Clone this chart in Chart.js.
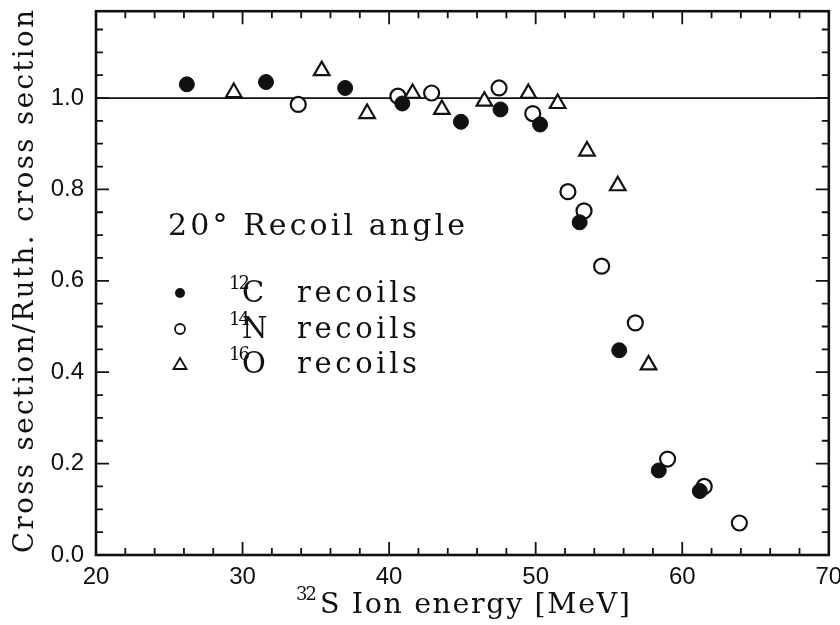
<!DOCTYPE html>
<html>
<head>
<meta charset="utf-8">
<script src="https://cdn.jsdelivr.net/npm/chart.js@4/dist/chart.umd.min.js"></script>
<style>
  body { margin: 0; background: #fff; }
  canvas { display: block; }
</style>
</head>
<body>
<canvas id="recoil-chart" width="840" height="625"></canvas>
<script>
// 12C recoils (filled circles)
const carbonEnergy = [26.2, 31.6, 37.0, 40.9, 44.9, 47.6, 50.3, 53.0, 55.7, 58.4, 61.2];
const carbonRatio  = [1.030, 1.035, 1.022, 0.988, 0.948, 0.975, 0.942, 0.728, 0.448, 0.185, 0.14];

// 14N recoils (open circles)
const nitrogenEnergy = [33.8, 40.6, 42.9, 47.5, 49.8, 52.2, 53.3, 54.5, 56.8, 59.0, 61.5, 63.9];
const nitrogenRatio  = [0.986, 1.004, 1.011, 1.022, 0.966, 0.795, 0.753, 0.632, 0.508, 0.21, 0.15, 0.07];

// 16O recoils (open triangles)
const oxygenEnergy = [29.4, 35.4, 38.5, 41.6, 43.6, 46.5, 49.5, 51.5, 53.5, 55.6, 57.7];
const oxygenRatio  = [1.012, 1.060, 0.966, 1.010, 0.975, 0.993, 1.010, 0.988, 0.884, 0.808, 0.416];

// Rutherford reference line
const rutherfordLevel = 1.0;

const xTickLabels = [20, 30, 40, 50, 60, 70];
const yTickLabels = [0.0, 0.2, 0.4, 0.6, 0.8, 1.0];

const toPoints = (xs, ys) => xs.map((x, i) => ({ x: x, y: ys[i] }));

const INK = '#111';
const SERIF = '"DejaVu Serif", "Liberation Serif", serif';
const SANS = '"Liberation Sans", Arial, sans-serif';

// draw a string stretched/squeezed (via letter spacing) to a given width
function spanText(ctx, text, x, y, size, width) {
  ctx.font = size + 'px ' + SERIF;
  ctx.letterSpacing = '0px';
  const natural = ctx.measureText(text).width;
  const gap = (width - natural) / Math.max(1, text.length - 1);
  ctx.letterSpacing = gap.toFixed(2) + 'px';
  ctx.fillText(text, x, y);
  ctx.letterSpacing = '0px';
}

// frame around the plot with inward ticks on all four sides
const framePlugin = {
  id: 'frame',
  afterDatasetsDraw(chart) {
    const { ctx, chartArea: a, scales } = chart;
    const xs = scales.x, ys = scales.y;
    ctx.save();
    ctx.strokeStyle = INK;
    ctx.lineWidth = 1.8;
    for (let v = 22; v < 70; v += 2) {
      const px = xs.getPixelForValue(v);
      const len = v % 10 === 0 ? 13 : 7;
      ctx.beginPath();
      ctx.moveTo(px, a.bottom); ctx.lineTo(px, a.bottom - len);
      ctx.moveTo(px, a.top); ctx.lineTo(px, a.top + len);
      ctx.stroke();
    }
    for (let k = 1; k * 0.05 < 1.19; k++) {
      const py = ys.getPixelForValue(k * 0.05);
      const len = k % 4 === 0 ? 13 : 7;
      ctx.beginPath();
      ctx.moveTo(a.left, py); ctx.lineTo(a.left + len, py);
      ctx.moveTo(a.right, py); ctx.lineTo(a.right - len, py);
      ctx.stroke();
    }
    ctx.lineWidth = 2.6;
    ctx.strokeRect(a.left, a.top, a.right - a.left, a.bottom - a.top);
    ctx.restore();
  }
};

// axis titles, annotation and the hand-placed key
const labelsPlugin = {
  id: 'labels',
  afterDraw(chart) {
    const ctx = chart.ctx;
    ctx.save();
    ctx.fillStyle = INK;
    ctx.strokeStyle = INK;
    ctx.textBaseline = 'alphabetic';
    ctx.textAlign = 'left';

    // y title, rotated, running from y=553 up to y=10
    ctx.save();
    ctx.translate(33, 553);
    ctx.rotate(-Math.PI / 2);
    spanText(ctx, 'Cross section/Ruth. cross section', 0, 0, 27.5, 543);
    ctx.restore();

    // x title with superscript mass number
    spanText(ctx, '32', 296, 600, 18, 21);
    spanText(ctx, 'S Ion energy [MeV]', 320, 613, 28.5, 310);

    // annotation
    spanText(ctx, '20\u00b0 Recoil angle', 168, 235, 30, 297);

    // key rows
    const rows = [
      { mass: '12', sym: 'C', y: 302, style: 'dot' },
      { mass: '14', sym: 'N', y: 338, style: 'ring' },
      { mass: '16', sym: 'O', y: 373, style: 'tri' }
    ];
    rows.forEach(r => {
      const cy = r.y - 9;
      ctx.lineWidth = 1.8;
      ctx.beginPath();
      if (r.style === 'dot') {
        ctx.arc(180, cy, 5, 0, Math.PI * 2);
        ctx.fill();
      } else if (r.style === 'ring') {
        ctx.arc(180, cy, 5, 0, Math.PI * 2);
        ctx.stroke();
      } else {
        ctx.moveTo(180, cy - 6);
        ctx.lineTo(186.5, cy + 5);
        ctx.lineTo(173.5, cy + 5);
        ctx.closePath();
        ctx.stroke();
      }
      spanText(ctx, r.mass, 229, r.y - 13, 18, 21);
      spanText(ctx, r.sym, 242, r.y, 29, 20);
      spanText(ctx, 'recoils', 297, r.y, 29, 120);
    });
    ctx.restore();
  }
};

const config = {
  type: 'scatter',
  data: {
    datasets: [
      {
        label: '12C recoils',
        data: toPoints(carbonEnergy, carbonRatio),
        pointStyle: 'circle',
        pointRadius: 7.5,
        backgroundColor: INK,
        borderColor: INK,
        borderWidth: 1,
        order: 1
      },
      {
        label: '14N recoils',
        data: toPoints(nitrogenEnergy, nitrogenRatio),
        pointStyle: 'circle',
        pointRadius: 7.5,
        backgroundColor: '#fff',
        borderColor: INK,
        borderWidth: 2.2,
        order: 2
      },
      {
        label: '16O recoils',
        data: toPoints(oxygenEnergy, oxygenRatio),
        pointStyle: 'triangle',
        pointRadius: 9,
        backgroundColor: '#fff',
        borderColor: INK,
        borderWidth: 2.2,
        order: 3
      },
      {
        type: 'line',
        label: 'Rutherford',
        data: [{ x: 20, y: rutherfordLevel }, { x: 70, y: rutherfordLevel }],
        borderColor: INK,
        borderWidth: 1.8,
        pointRadius: 0,
        order: 10
      }
    ]
  },
  options: {
    responsive: false,
    animation: false,
    layout: { padding: { top: 8, right: 10, left: 0, bottom: 0 } },
    plugins: {
      legend: { display: false },
      tooltip: { enabled: false }
    },
    scales: {
      x: {
        type: 'linear',
        min: 20,
        max: 70,
        grid: { display: false, drawTicks: false },
        border: { display: false },
        afterFit: scale => {
          scale.height = 70;
          scale.paddingLeft = 0;
          scale.paddingRight = 0;
        },
        afterBuildTicks: scale => { scale.ticks = xTickLabels.map(v => ({ value: v })); },
        ticks: {
          padding: 8,
          color: INK,
          font: { family: SANS, size: 24 }
        }
      },
      y: {
        type: 'linear',
        min: 0,
        max: 1.19,
        grid: { display: false, drawTicks: false },
        border: { display: false },
        afterFit: scale => {
          scale.width = 96;
          scale.paddingTop = 0;
          scale.paddingBottom = 0;
        },
        afterBuildTicks: scale => { scale.ticks = yTickLabels.map(v => ({ value: v })); },
        ticks: {
          padding: 12,
          color: INK,
          font: { family: SANS, size: 24 },
          callback: v => v.toFixed(1)
        }
      }
    }
  },
  plugins: [framePlugin, labelsPlugin]
};

document.addEventListener('DOMContentLoaded', function () {
  const ctx = document.getElementById('recoil-chart').getContext('2d');
  new Chart(ctx, config);
});
</script>
</body>
</html>
